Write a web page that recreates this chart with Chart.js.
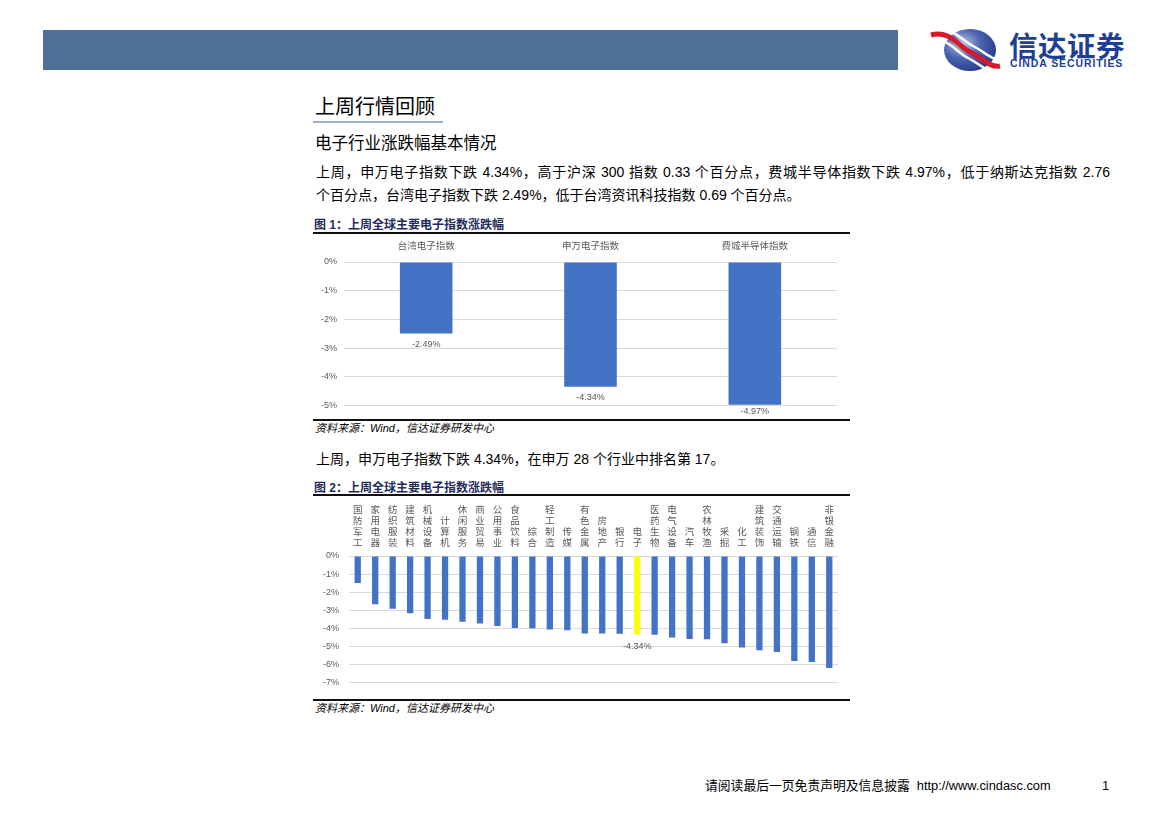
<!DOCTYPE html>
<html lang="zh-CN">
<head>
<meta charset="utf-8">
<title>上周行情回顾</title>
<script src="https://cdn.jsdelivr.net/npm/chart.js@4.4.1/dist/chart.umd.min.js"></script>
<style>
  html, body { margin: 0; padding: 0; background: #fff; }
  body {
    width: 1169px; height: 827px; position: relative; overflow: hidden;
    font-family: "Liberation Sans", "Noto Sans CJK SC", sans-serif; color: #000;
  }
  .abs { position: absolute; white-space: nowrap; }
  .band { left: 43px; top: 30px; width: 855px; height: 40px; background: #4f6f98; }
  .logo-cn { left: 1009px; top: 29px; font-size: 28.5px; line-height: 31px; font-weight: 700;
    color: #1f3f95; font-family: "Noto Sans CJK SC", sans-serif; letter-spacing: 0.5px; }
  .logo-en { left: 1010px; top: 57px; font-size: 10.5px; line-height: 12px; font-weight: 700;
    color: #1f3f95; letter-spacing: 0.9px; }
  .h1 { left: 315px; top: 94px; font-size: 20px; line-height: 26px; }
  .h1-rule { left: 313px; top: 121px; width: 130px; height: 1.5px; background: #a3b2c8; }
  .h2 { left: 315px; top: 132px; font-size: 16.5px; line-height: 22px; }
  .para { left: 316px; width: 794px; font-size: 14px; line-height: 23px; white-space: normal; }
  .justify { text-align: justify; text-align-last: justify; }
  .fig-title { left: 314px; font-size: 12px; line-height: 16px; font-weight: 700; color: #1f2c5c; }
  .rule { left: 313px; width: 537px; height: 2px; background: #111; }
  .source { left: 315px; font-size: 11px; line-height: 14px; font-style: italic; }
  .chart-box { position: absolute; left: 313px; width: 537px; }
  .footer { top: 778px; font-size: 12.8px; line-height: 16px; }
</style>
</head>
<body>
  <div class="abs band"></div>

  <svg class="abs" style="left:928px;top:26px" width="74" height="48" viewBox="0 0 74 48">
    <defs>
      <radialGradient id="ball" cx="0.35" cy="0.35" r="0.8">
        <stop offset="0" stop-color="#b9c6e6"/>
        <stop offset="0.45" stop-color="#4b63b0"/>
        <stop offset="1" stop-color="#1c2f7e"/>
      </radialGradient>
    </defs>
    <ellipse cx="42" cy="24" rx="26" ry="21" fill="url(#ball)"/>
    <path d="M3 9 C 22 4, 30 20, 42 26 S 62 42, 72 40" fill="none" stroke="#d6192b" stroke-width="5"/>
    <path d="M3 15 C 20 11, 28 26, 40 32 S 58 46, 68 46" fill="none" stroke="#ffffff" stroke-width="2.5"/>
    <path d="M6 3 C 24 0, 33 14, 45 20 S 63 34, 72 33" fill="none" stroke="#ffffff" stroke-width="2.5"/>
  </svg>
  <div class="abs logo-cn">信达证券</div>
  <div class="abs logo-en">CINDA SECURITIES</div>

  <div class="abs h1">上周行情回顾</div>
  <div class="abs h1-rule"></div>
  <div class="abs h2">电子行业涨跌幅基本情况</div>

  <div class="abs para justify" style="top:161px">上周，申万电子指数下跌 4.34%，高于沪深 300 指数 0.33 个百分点，费城半导体指数下跌 4.97%，低于纳斯达克指数 2.76</div>
  <div class="abs para" style="top:184px">个百分点，台湾电子指数下跌 2.49%，低于台湾资讯科技指数 0.69 个百分点。</div>

  <div class="abs fig-title" style="top:217px">图 1：上周全球主要电子指数涨跌幅</div>
  <div class="abs rule" style="top:232px"></div>
  <div class="chart-box" style="top:236px;height:182px"><canvas id="indexChart"></canvas></div>
  <div class="abs rule" style="top:419px"></div>
  <div class="abs source" style="top:421px">资料来源：Wind，信达证券研发中心</div>

  <div class="abs para" style="top:448px">上周，申万电子指数下跌 4.34%，在申万 28 个行业中排名第 17。</div>

  <div class="abs fig-title" style="top:480px">图 2：上周全球主要电子指数涨跌幅</div>
  <div class="abs rule" style="top:494px"></div>
  <div class="chart-box" style="top:497px;height:201px"><canvas id="industryChart"></canvas></div>
  <div class="abs rule" style="top:699px"></div>
  <div class="abs source" style="top:701px">资料来源：Wind，信达证券研发中心</div>

  <div class="abs footer" style="left:705px">请阅读最后一页免责声明及信息披露&nbsp; http://www.cindasc.com</div>
  <div class="abs footer" style="left:1102px">1</div>

<script>
(function () {
  // 图1：全球主要电子指数
  const indexLabels = ["台湾电子指数", "申万电子指数", "费城半导体指数"];
  const indexChanges = [-2.49, -4.34, -4.97];
  const indexTicks = [0, -1, -2, -3, -4, -5];

  // 图2：申万 28 个行业
  const industryLabels = [
    "国防军工", "家用电器", "纺织服装", "建筑材料", "机械设备", "计算机", "休闲服务",
    "商业贸易", "公用事业", "食品饮料", "综合", "轻工制造", "传媒", "有色金属",
    "房地产", "银行", "电子", "医药生物", "电气设备", "汽车", "农林牧渔",
    "采掘", "化工", "建筑装饰", "交通运输", "钢铁", "通信", "非银金融"
  ];
  const industryChanges = [
    -1.49, -2.67, -2.92, -3.16, -3.48, -3.53, -3.64,
    -3.73, -3.87, -3.98, -3.99, -4.07, -4.11, -4.28,
    -4.29, -4.30, -4.34, -4.36, -4.50, -4.59, -4.60,
    -4.83, -5.06, -5.21, -5.31, -5.81, -5.86, -6.19
  ];
  const industryTicks = [0, -1, -2, -3, -4, -5, -6, -7];
  const highlight = "电子";

  const BLUE = "#4472c4";
  const YELLOW = "#ffff00";
  const GREY_TEXT = "#595959";
  const GRID = "#d9d9d9";
  const FONT = '"Liberation Sans", "Noto Sans CJK SC", sans-serif';

  Chart.defaults.font.family = FONT;
  Chart.defaults.color = GREY_TEXT;
  Chart.defaults.animation = false;

  // 柱子下方的数值标签
  const barLabels = {
    id: "barLabels",
    afterDatasetsDraw(chart, args, opts) {
      const ctx = chart.ctx;
      const data = chart.data.datasets[0].data;
      ctx.save();
      ctx.font = "9px " + FONT;
      ctx.fillStyle = GREY_TEXT;
      ctx.textAlign = "center";
      ctx.textBaseline = "middle";
      chart.getDatasetMeta(0).data.forEach((bar, i) => {
        if (opts.only != null && opts.only !== i) return;
        const y = Math.min(bar.y + opts.offset, chart.height - 6);
        ctx.fillText(data[i].toFixed(2) + "%", bar.x, y);
      });
      ctx.restore();
    },
  };

  function pctAxis(ticks, width, padding) {
    return {
      min: Math.min(...ticks),
      max: Math.max(...ticks),
      border: { display: false },
      grid: { color: GRID, lineWidth: 1, drawTicks: false },
      ticks: {
        stepSize: 1,
        padding: padding,
        font: { size: 9 },
        callback: (v) => v + "%",
      },
      afterFit: (s) => { s.width = width; },
    };
  }

  new Chart(document.getElementById("indexChart"), {
    type: "bar",
    data: {
      labels: indexLabels,
      datasets: [{
        data: indexChanges,
        backgroundColor: BLUE,
        categoryPercentage: 1,
        barPercentage: 0.32,
      }],
    },
    options: {
      responsive: true,
      maintainAspectRatio: false,
      layout: { padding: { top: 0, right: 13, bottom: 4.5, left: 0 } },
      plugins: {
        legend: { display: false },
        tooltip: { enabled: false },
        barLabels: { offset: 11 },
      },
      scales: {
        x: {
          position: "top",
          border: { display: false },
          grid: { display: false, drawTicks: false },
          ticks: { padding: 10, font: { size: 9.5 }, maxRotation: 0 },
          afterFit: (s) => { s.height = 26; },
        },
        y: pctAxis(indexTicks, 31, 7),
      },
    },
    plugins: [barLabels],
  });

  const hiIndex = industryLabels.indexOf(highlight);

  new Chart(document.getElementById("industryChart"), {
    type: "bar",
    data: {
      labels: industryLabels,
      datasets: [{
        data: industryChanges,
        backgroundColor: industryLabels.map((n) => (n === highlight ? YELLOW : BLUE)),
        categoryPercentage: 1,
        barPercentage: 0.36,
      }],
    },
    options: {
      responsive: true,
      maintainAspectRatio: false,
      layout: { padding: { top: 0, right: 12, bottom: 6, left: 0 } },
      plugins: {
        legend: { display: false },
        tooltip: { enabled: false },
        barLabels: { offset: 12, only: hiIndex },
      },
      scales: {
        x: {
          position: "top",
          border: { display: false },
          grid: { display: false, drawTicks: false },
          ticks: {
            padding: 7,
            autoSkip: false,
            maxRotation: 0,
            minRotation: 0,
            font: { size: 9.5, lineHeight: 1.16 },
            // 竖排：每个字一行
            callback: function (v) { return Array.from(this.getLabelForValue(v)); },
          },
          afterFit: (s) => { s.height = 59; },
        },
        y: pctAxis(industryTicks, 36, 10),
      },
    },
    plugins: [barLabels],
  });
})();
</script>
</body>
</html>
